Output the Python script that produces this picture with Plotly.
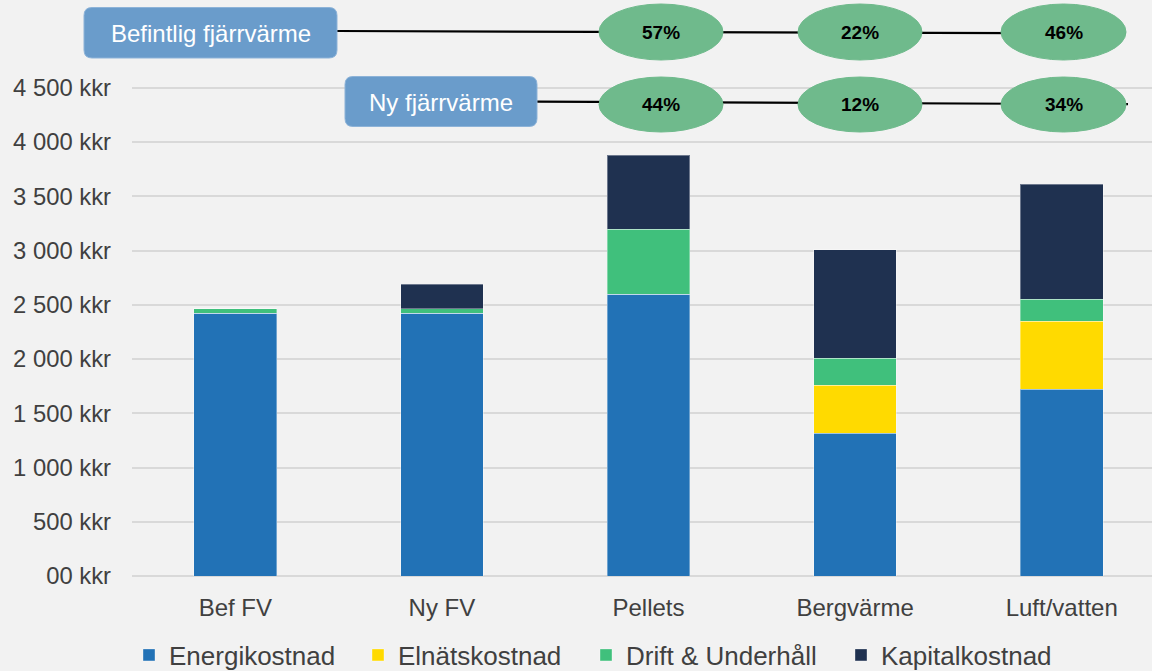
import plotly.graph_objects as go

# ---------------- data ----------------
categories = ["Bef FV", "Ny FV", "Pellets", "Bergvärme", "Luft/vatten"]
energikostnad = [2421, 2421, 2596, 1318, 1721]
elnatskostnad = [0, 0, 0, 440, 629]
drift_underhall = [44, 44, 602, 248, 200]
kapitalkostnad = [0, 223, 682, 1002, 1059]
series_names = ["Energikostnad", "Elnätskostnad", "Drift & Underhåll", "Kapitalkostnad"]

y_tickvals = [0, 500, 1000, 1500, 2000, 2500, 3000, 3500, 4000, 4500]
y_ticktext = ["00 kkr", "500 kkr", "1 000 kkr", "1 500 kkr", "2 000 kkr",
              "2 500 kkr", "3 000 kkr", "3 500 kkr", "4 000 kkr", "4 500 kkr"]

row_labels = ["Befintlig fjärrvärme", "Ny fjärrvärme"]
befintlig_pct = ["57%", "22%", "46%"]
ny_pct = ["44%", "12%", "34%"]

# ---------------- style / layout ----------------
colors = ["#2272B6", "#FFDA00", "#40C07C", "#1F3150"]
FONT = "Liberation Sans, Arial, sans-serif"
TXT = "#404040"
BG = "#F2F2F2"

W, H = 1152, 671
ML, MR, MT, MB = 132, 0, 0, 95
PW, PH = W - ML - MR, H - MT - MB
PX_PER_KKR = 0.1085
PX_PER_CAT = 206.6


def px(x):
    return (x - ML) / PW


def py(y):
    return (H - MB - y) / PH


def rounded_path(x0, y0, x1, y1, r):
    return (f"M {px(x0 + r)},{py(y0)} L {px(x1 - r)},{py(y0)} "
            f"Q {px(x1)},{py(y0)} {px(x1)},{py(y0 + r)} L {px(x1)},{py(y1 - r)} "
            f"Q {px(x1)},{py(y1)} {px(x1 - r)},{py(y1)} L {px(x0 + r)},{py(y1)} "
            f"Q {px(x0)},{py(y1)} {px(x0)},{py(y1 - r)} L {px(x0)},{py(y0 + r)} "
            f"Q {px(x0)},{py(y0)} {px(x0 + r)},{py(y0)} Z")


legend_ids = ["legend", "legend2", "legend3", "legend4"]
legend_square_x = [147, 376, 604, 859]

fig = go.Figure()
for name, vals, col, lid in zip(series_names,
                                [energikostnad, elnatskostnad, drift_underhall, kapitalkostnad],
                                colors, legend_ids):
    fig.add_trace(go.Bar(
        x=categories, y=vals, name=name, width=0.4, legend=lid,
        marker=dict(color=col, line=dict(color="rgba(255,255,255,0.35)", width=1)),
    ))

shapes = []
annotations = []

# boxes (pixel geometry)
boxes = [(84, 7.5, 337, 58), (345, 76.5, 537, 126.5)]
# connector lines: (x0, y0, x1, y1)
lines = [(337, 31, 1126, 33.5), (537, 101.7, 1128, 104.2)]
oval_x = [(599, 723), (798, 922), (1001, 1126)]
oval_y = [(4, 60), (77, 132)]

for (x0, y0, x1, y1) in lines:
    shapes.append(dict(type="line", xref="paper", yref="paper",
                       x0=px(x0), y0=py(y0), x1=px(x1), y1=py(y1),
                       line=dict(color="black", width=2.2)))

for (bx0, by0, bx1, by1), lab in zip(boxes, row_labels):
    shapes.append(dict(type="path", xref="paper", yref="paper",
                       path=rounded_path(bx0, by0, bx1, by1, 8),
                       fillcolor="#6A9CCB", line=dict(color="#8DB3D8", width=1)))
    annotations.append(dict(x=px((bx0 + bx1) / 2), y=py((by0 + by1) / 2 + 1),
                            xref="paper", yref="paper", text=lab, showarrow=False,
                            font=dict(family=FONT, size=24, color="white"),
                            xanchor="center", yanchor="middle"))

for (oy0, oy1), pcts in zip(oval_y, [befintlig_pct, ny_pct]):
    for (ox0, ox1), t in zip(oval_x, pcts):
        shapes.append(dict(type="circle", xref="paper", yref="paper",
                           x0=px(ox0), x1=px(ox1), y0=py(oy1), y1=py(oy0),
                           fillcolor="#6FBA8C", line=dict(color="#6FBA8C", width=1)))
        annotations.append(dict(x=px((ox0 + ox1) / 2), y=py((oy0 + oy1) / 2),
                                xref="paper", yref="paper", text=f"<b>{t}</b>",
                                showarrow=False,
                                font=dict(family=FONT, size=19, color="black"),
                                xanchor="center", yanchor="middle"))

legend_layout = {}
for lid, sx in zip(legend_ids, legend_square_x):
    legend_layout[lid] = dict(orientation="h",
                              xref="container", x=(sx - 18) / W, xanchor="left",
                              yref="container", y=1 - 655 / H, yanchor="middle",
                              font=dict(family=FONT, size=26, color=TXT),
                              bgcolor="rgba(0,0,0,0)")

fig.update_layout(
    width=W, height=H,
    margin=dict(l=ML, r=MR, t=MT, b=MB, pad=0, autoexpand=False),
    paper_bgcolor=BG, plot_bgcolor=BG,
    barmode="stack",
    font=dict(family=FONT, color=TXT),
    showlegend=True,
    shapes=shapes,
    annotations=annotations,
    xaxis=dict(range=[-0.5, -0.5 + PW / PX_PER_CAT], showgrid=False, zeroline=False,
               showline=False, ticks="", tickfont=dict(family=FONT, size=24, color=TXT),
               ticklabelstandoff=15, fixedrange=True),
    yaxis=dict(range=[0, PH / PX_PER_KKR], tickvals=y_tickvals, ticktext=y_ticktext,
               showgrid=True, gridcolor="#D9D9D9", gridwidth=1.5,
               zeroline=True, zerolinecolor="#D9D9D9", zerolinewidth=2,
               showline=False, ticks="", tickfont=dict(family=FONT, size=23.8, color=TXT),
               ticklabelstandoff=20, fixedrange=True),
    **legend_layout,
)

fig.write_html("out.html", config={"displayModeBar": False},
               post_script="document.body.style.margin='0';")
